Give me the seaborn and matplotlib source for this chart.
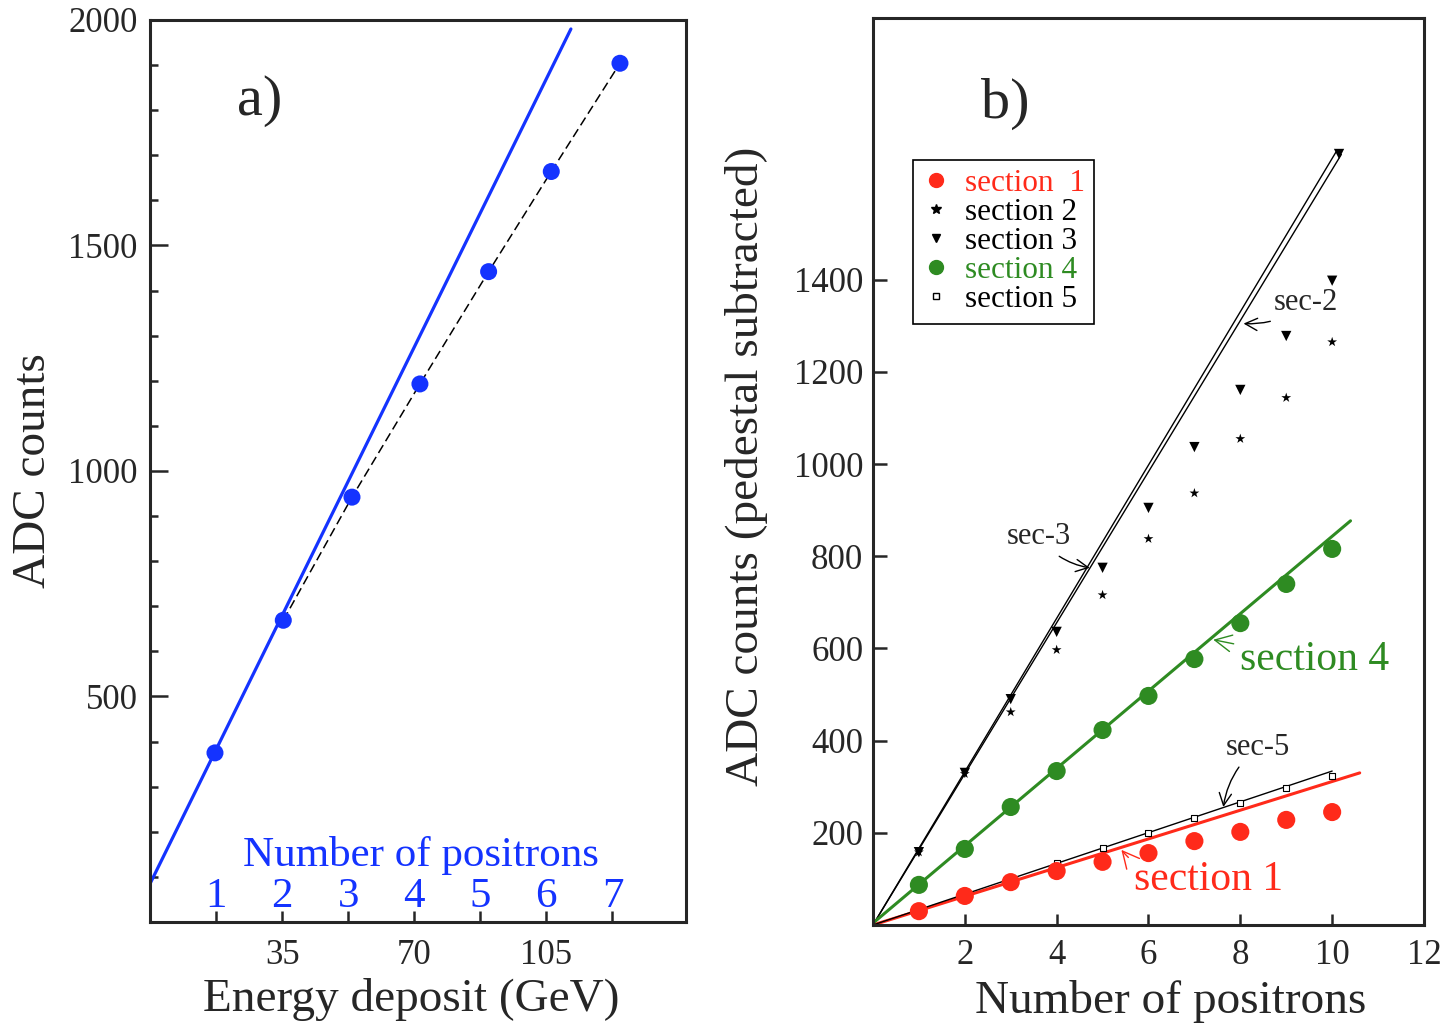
import numpy as np
import pandas as pd
import seaborn as sns
import matplotlib.pyplot as plt
from matplotlib.lines import Line2D
from matplotlib.ticker import MultipleLocator, FixedLocator

# --- panel a: ADC vs energy deposit ---
positrons_a = [1, 2, 3, 4, 5, 6, 7]
positron_energy = [17.5, 35, 52.5, 70, 87.5, 105, 122.5]
energy_a = [17.2, 35.3, 53.5, 71.5, 89.7, 106.3, 124.5]
adc_a = [375, 669, 942, 1193, 1442, 1664, 1904]
blue_line_x = [0, 111.5]
blue_line_y = [85, 1980]
energy_ticks = [35, 70, 105]
adc_ticks_a = [500, 1000, 1500, 2000]

# --- panel b: ADC vs number of positrons, per section ---
n_pos = [1, 2, 3, 4, 5, 6, 7, 8, 9, 10]
sec1 = [30, 63, 93, 117, 137, 156, 182, 202, 228, 245]
sec2 = [158, 328, 462, 597, 716, 838, 937, 1055, 1144, 1265]
sec3 = [158, 330, 490, 636, 775, 905, 1037, 1161, 1278, 1398]
sec4 = [87, 165, 256, 334, 423, 497, 577, 655, 740, 816]
sec5 = [33, 67, 100, 134, 167, 200, 232, 265, 297, 323]
sec3_top_x = [10.15]
sec3_top_y = [1673]
# straight fit lines: start y at x=0, end x, end y
fit_names = ['sec1', 'sec2', 'sec3', 'sec4', 'sec5']
fit_y0 = [0, 0, 0, 4, 0]
fit_xend = [10.6, 10.1, 10.2, 10.4, 10.0]
fit_yend = [330, 1680, 1672, 877, 334]

RED = '#ff2a1a'
GREEN = '#2e8b22'
BLUE = '#1433ff'

sns.set_style('ticks')
plt.rcParams['font.family'] = ['Liberation Serif', 'DejaVu Serif']

fig = plt.figure(figsize=(14.47, 10.24), dpi=100)
ax1 = fig.add_axes([0.1037, 0.0996, 0.3704, 0.8809])
ax2 = fig.add_axes([0.6033, 0.0967, 0.3808, 0.8857])

# ---------------- panel a ----------------
sns.lineplot(x=blue_line_x, y=blue_line_y, ax=ax1, color=BLUE, lw=2.3)
sns.lineplot(x=energy_a[1:], y=adc_a[1:], ax=ax1, color='black', lw=1.1,
             linestyle=(0, (6, 3)), sort=False)
sns.scatterplot(x=energy_a, y=adc_a, ax=ax1, color=BLUE, s=150,
                edgecolor='none', zorder=5)

ax1.set_xlim(0, 142)
ax1.set_ylim(0, 2000)
ax1.xaxis.set_major_locator(FixedLocator(energy_ticks))
ax1.xaxis.set_minor_locator(FixedLocator(positron_energy))
ax1.yaxis.set_major_locator(FixedLocator(adc_ticks_a))
ax1.yaxis.set_minor_locator(MultipleLocator(100))
ax1.tick_params(axis='both', which='both', direction='in', width=1.8,
                labelsize=25, top=False, right=False)
ax1.tick_params(axis='y', which='major', length=13, pad=9)
ax1.tick_params(axis='y', which='minor', length=6)
ax1.tick_params(axis='x', which='both', length=8, pad=12)

tr = ax1.get_xaxis_transform()
for n, e in zip(positrons_a, positron_energy):
    ax1.text(e, 0.028, str(n), transform=tr, ha='center', va='center',
             color=BLUE, fontsize=31)
ax1.text(71.9, 0.074, 'Number of positrons', transform=tr, ha='center',
         va='center', color=BLUE, fontsize=31)
ax1.text(0.205, 0.91, 'a)', transform=ax1.transAxes, ha='center',
         va='center', fontsize=42)

ax1.set_xlabel('Energy deposit (GeV)', fontsize=34)
ax1.set_ylabel('ADC counts', fontsize=34)
ax1.xaxis.set_label_coords(0.487, -0.062)
ax1.yaxis.set_label_coords(-0.178, 0.50)

# ---------------- panel b ----------------
fit_colors = [RED, 'black', 'black', GREEN, 'black']
fit_lw = [2.2, 1.0, 1.0, 2.2, 1.0]
for name, y0, xe, ye, c, lw in zip(fit_names, fit_y0, fit_xend, fit_yend,
                                   fit_colors, fit_lw):
    sns.lineplot(x=[0, xe], y=[y0, ye], ax=ax2, color=c, lw=lw)

sns.scatterplot(x=n_pos, y=sec5, ax=ax2, marker='s', s=18,
                facecolor='white', edgecolor='black', linewidth=0.8, zorder=4)
sns.scatterplot(x=n_pos, y=sec1, ax=ax2, color=RED, s=170,
                edgecolor='none', zorder=5)
sns.scatterplot(x=n_pos, y=sec4, ax=ax2, color=GREEN, s=170,
                edgecolor='none', zorder=5)
sns.scatterplot(x=n_pos, y=sec2, ax=ax2, marker='*', color='black', s=55,
                edgecolor='none', zorder=5)
sns.scatterplot(x=n_pos, y=sec3, ax=ax2, marker='v', color='black', s=55,
                edgecolor='none', zorder=5)
sns.scatterplot(x=sec3_top_x, y=sec3_top_y, ax=ax2, marker='v',
                color='black', s=55, edgecolor='none', zorder=5)

ax2.set_xlim(0, 12)
ax2.set_ylim(0, 1968)
ax2.xaxis.set_major_locator(FixedLocator([2, 4, 6, 8, 10, 12]))
ax2.yaxis.set_major_locator(FixedLocator([200, 400, 600, 800, 1000, 1200, 1400]))
ax2.tick_params(axis='both', which='both', direction='in', width=1.8,
                labelsize=25, top=False, right=False)
ax2.tick_params(axis='y', length=10, pad=7)
ax2.tick_params(axis='x', length=8, pad=10)

ax2.text(0.24, 0.905, 'b)', transform=ax2.transAxes, ha='center',
         va='center', fontsize=42)

# annotations
arr = dict(arrowstyle='->', color='black', lw=1.0, shrinkA=2, shrinkB=0)
ax2.annotate('sec-2', xy=(8.07, 1305), xytext=(9.43, 1350), fontsize=22,
             ha='center', va='center',
             arrowprops=dict(arr, connectionstyle='arc3,rad=-0.2'))
ax2.annotate('sec-3', xy=(4.72, 775), xytext=(3.61, 842), fontsize=22,
             ha='center', va='center',
             arrowprops=dict(arr, connectionstyle='arc3,rad=0.2'))
ax2.annotate('sec-5', xy=(7.63, 256), xytext=(8.39, 386), fontsize=22,
             ha='center', va='center',
             arrowprops=dict(arr, connectionstyle='arc3,rad=0.2'))
ax2.annotate('section 4', xy=(7.41, 619), xytext=(9.61, 575), fontsize=30,
             ha='center', va='center', color=GREEN,
             arrowprops=dict(arr, color=GREEN, connectionstyle='arc3,rad=0'))
ax2.annotate('section 1', xy=(5.41, 163), xytext=(7.30, 98), fontsize=30,
             ha='center', va='center', color=RED,
             arrowprops=dict(arr, color=RED, connectionstyle='arc3,rad=-0.3'))

handles = [
    Line2D([], [], ls='none', marker='o', color=RED, ms=10),
    Line2D([], [], ls='none', marker='*', color='black', ms=7),
    Line2D([], [], ls='none', marker='v', color='black', ms=6),
    Line2D([], [], ls='none', marker='o', color=GREEN, ms=10),
    Line2D([], [], ls='none', marker='s', mfc='white', mec='black', ms=4),
]
labels = ['section  1', 'section 2', 'section 3', 'section 4', 'section 5']
leg = ax2.legend(handles, labels, loc='upper left',
                 bbox_to_anchor=(0.0726, 0.8434), fontsize=22.5,
                 frameon=True, fancybox=False, edgecolor='black',
                 framealpha=1, borderpad=0.3, labelspacing=0.0,
                 handlelength=0.9, handletextpad=0.45, borderaxespad=0)
leg.get_frame().set_linewidth(1.2)
for t, c in zip(leg.get_texts(), [RED, 'black', 'black', GREEN, 'black']):
    t.set_color(c)

ax2.set_xlabel('Number of positrons', fontsize=34)
ax2.set_ylabel('ADC counts (pedestal subtracted)', fontsize=34)
ax2.xaxis.set_label_coords(0.541, -0.061)
ax2.yaxis.set_label_coords(-0.19, 0.506)

for ax in (ax1, ax2):
    for sp in ax.spines.values():
        sp.set_linewidth(2.2)
        sp.set_visible(True)

fig.savefig('out.png', dpi=100)
